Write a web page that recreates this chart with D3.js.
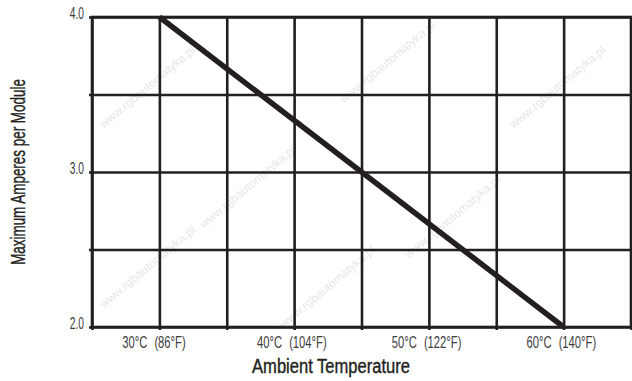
<!DOCTYPE html>
<html>
<head>
<meta charset="utf-8">
<script src="https://cdn.jsdelivr.net/npm/d3@7"></script>
<style>
  html, body { margin: 0; padding: 0; background: #fff; }
  svg { display: block; }
  text { font-family: "Liberation Sans", Arial, sans-serif; }
</style>
</head>
<body>
<div id="chart"></div>
<script>
// Derating curve: ambient temperature (°C) vs. maximum amperes per module
const tempsC = [30, 60];
const amps = [4.0, 2.0];

// Axis labelling
const xTickC = [30, 40, 50, 60];
const xTickF = [86, 104, 122, 140];
const xGrid = [25, 30, 35, 40, 45, 50, 55, 60, 65];
const yGrid = [2.0, 2.5, 3.0, 3.5, 4.0];
const yTickLabels = ["2.0", "3.0", "4.0"];
const yTickValues = [2.0, 3.0, 4.0];

const W = 632, H = 381;
const margin = { top: 17, right: 1, bottom: 54, left: 92 };
const innerW = W - margin.left - margin.right;
const innerH = H - margin.top - margin.bottom;
const ink = "#231f20";
const labelInk = "#3c3c3c";

// text drawn inside a horizontally squeezed group, to mimic a condensed face
function condensedText(parent, px, py, squeeze, rotate) {
  const grp = parent.append("g")
    .attr("transform", `translate(${px},${py})` + (rotate ? ` rotate(${rotate})` : "") + ` scale(${squeeze},1)`);
  return grp.append("text").attr("x", 0).attr("y", 0);
}

const svg = d3.select("#chart").append("svg")
  .attr("width", W).attr("height", H);

// faint diagonal site mark behind the chart
const wmSpots = [[150, 90], [390, 65], [560, 90], [250, 190], [455, 220], [150, 270], [330, 290]];
svg.append("g").attr("fill", "#e8e8e8")
  .selectAll("text").data(wmSpots).join("text")
  .attr("transform", d => `translate(${d[0]},${d[1]}) rotate(-40)`)
  .attr("text-anchor", "middle")
  .attr("font-size", 12)
  .text("www.rgbautomatyka.pl");

const g = svg.append("g").attr("transform", `translate(${margin.left},${margin.top})`);

const x = d3.scaleLinear().domain([25, 65]).range([0, innerW]);
const y = d3.scaleLinear().domain([2.0, 4.0]).range([innerH, 0]);

// vertical grid with short ticks below the base line
const gx = g.append("g")
  .attr("transform", `translate(0,${innerH})`)
  .call(d3.axisBottom(x).tickValues(xGrid).tickSize(-innerH).tickSizeOuter(0).tickFormat(""));
gx.select(".domain").remove();
gx.selectAll(".tick line").attr("y1", 3).attr("stroke", ink).attr("stroke-width", 2.6);

// horizontal grid with short ticks left of the frame
const gy = g.append("g")
  .call(d3.axisLeft(y).tickValues(yGrid).tickSize(-innerW).tickSizeOuter(0).tickFormat(""));
gy.select(".domain").remove();
gy.selectAll(".tick line").attr("x1", -3).attr("stroke", ink).attr("stroke-width", 2.6);

// frame
g.append("rect")
  .attr("x", 0).attr("y", 0).attr("width", innerW).attr("height", innerH)
  .attr("fill", "none").attr("stroke", ink).attr("stroke-width", 2.6);

// derating line
const line = d3.line().x((d, i) => x(tempsC[i])).y(d => y(d));
g.append("path")
  .datum(amps)
  .attr("d", line)
  .attr("fill", "none")
  .attr("stroke", ink)
  .attr("stroke-width", 5.5)
  .attr("stroke-linecap", "butt");

// y tick labels
yTickValues.forEach((v, i) => {
  condensedText(g, -8, y(v) + 2, 0.64)
    .attr("text-anchor", "end")
    .attr("font-size", 16)
    .attr("fill", labelInk)
    .text(yTickLabels[i]);
});

// x tick labels: Celsius left of the grid line, Fahrenheit in parentheses after it
xTickC.forEach((c, i) => {
  condensedText(g, x(c) - 12, innerH + 21, 0.66)
    .attr("text-anchor", "end")
    .attr("font-size", 17)
    .attr("fill", labelInk)
    .text(`${c}°C`);
  condensedText(g, x(c) - 5, innerH + 21, 0.66)
    .attr("text-anchor", "start")
    .attr("font-size", 17)
    .attr("fill", labelInk)
    .text(`(${xTickF[i]}°F)`);
});

// axis titles, squeezed to their set widths, with a hairline stroke for weight
const xTitle = condensedText(svg, 331, 373, 1)
  .attr("text-anchor", "middle")
  .attr("font-size", 20)
  .attr("fill", ink)
  .attr("stroke", ink).attr("stroke-width", 0.4)
  .text("Ambient Temperature");
d3.select(xTitle.node().parentNode)
  .attr("transform", `translate(331,373) scale(${158 / xTitle.node().getComputedTextLength()},1)`);

const yTitle = condensedText(svg, 24.5, margin.top + innerH / 2, 1, -90)
  .attr("text-anchor", "middle")
  .attr("font-size", 20)
  .attr("fill", ink)
  .attr("stroke", ink).attr("stroke-width", 0.4)
  .text("Maximum Amperes per Module");
d3.select(yTitle.node().parentNode)
  .attr("transform", `translate(24.5,${margin.top + innerH / 2}) rotate(-90) scale(${186 / yTitle.node().getComputedTextLength()},1)`);
</script>
</body>
</html>
